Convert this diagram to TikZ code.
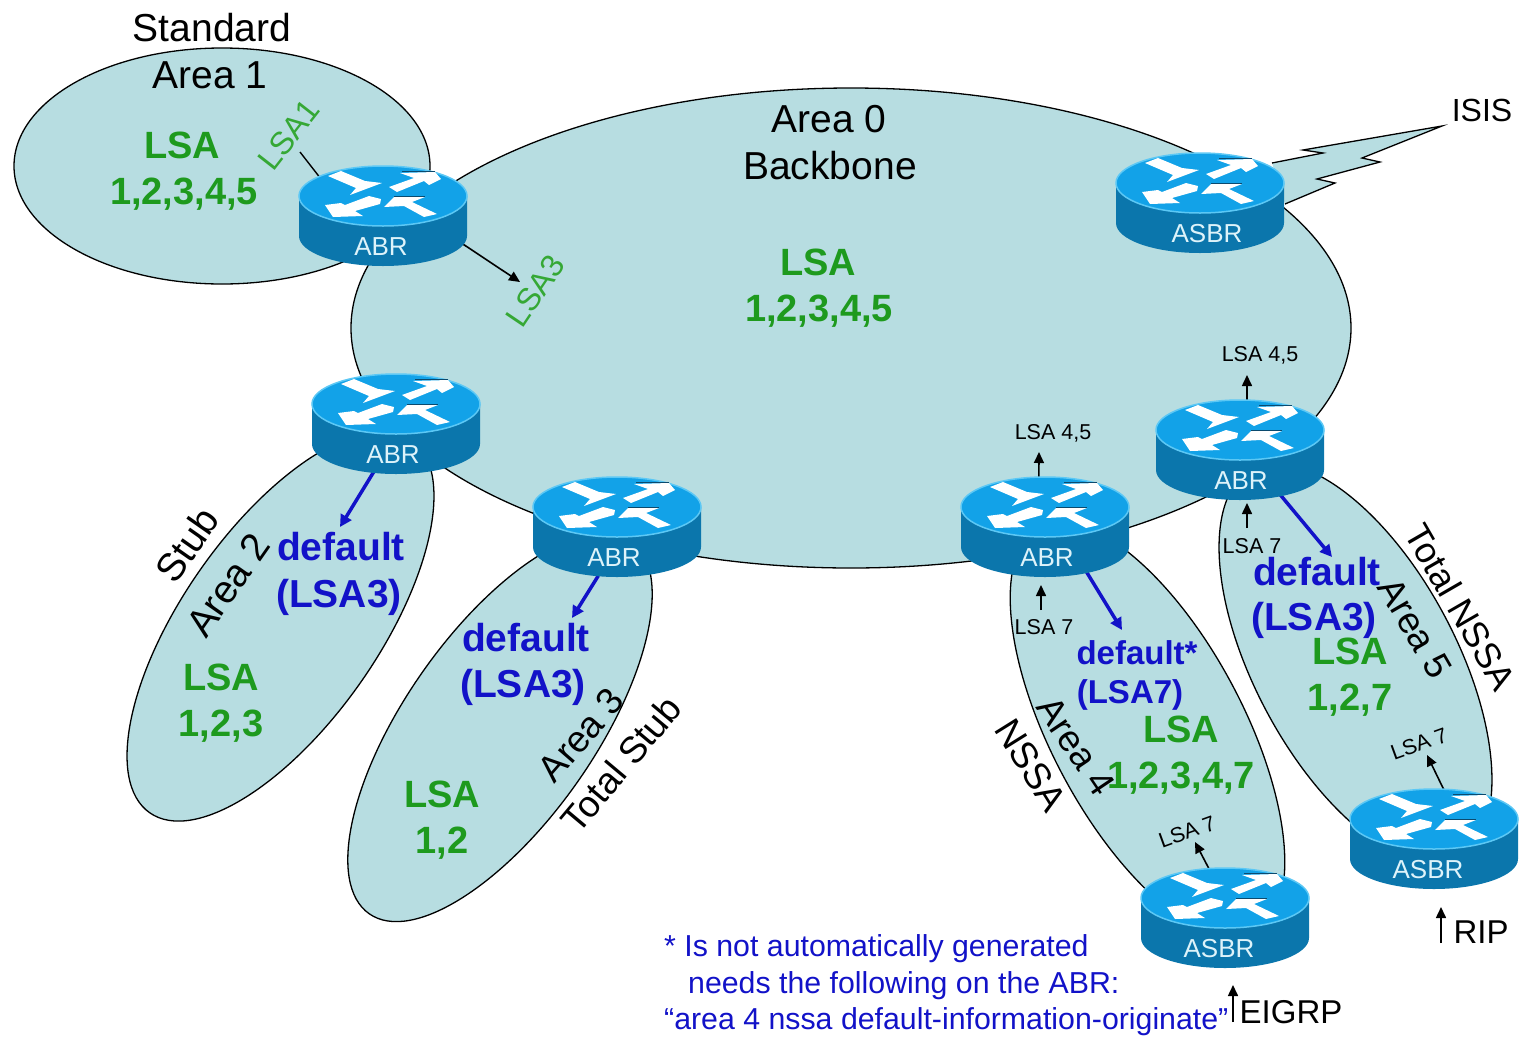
\documentclass[tikz,border=0pt]{standalone}
\usepackage{fontspec}
\setmainfont{Liberation Sans}
\usetikzlibrary{shapes.geometric,arrows.meta}
\pgfdeclarelayer{areas}
\pgfdeclarelayer{links}
\pgfsetlayers{areas,links,main}
\definecolor{areafill}{HTML}{B7DDE1}
\definecolor{rtop}{HTML}{12A2E8}
\definecolor{rrim}{HTML}{5CC8F5}
\definecolor{rside}{HTML}{0B76AC}
\definecolor{rshadow}{HTML}{0B4A6E}
\definecolor{rlabel}{HTML}{DDF3FA}
\definecolor{lsagreen}{HTML}{1E9A1E}
\definecolor{thingreen}{HTML}{35A835}
\definecolor{defblue}{HTML}{1212C8}
\tikzset{
  x=1pt,y=-1pt,
  area/.style={ellipse,draw=black,fill=areafill,line width=1.3pt,inner sep=0pt,outer sep=0pt},
  routeranchor/.style={ellipse,minimum width=168pt,minimum height=100pt,inner sep=0pt,outer sep=0pt},
  routerlabel/.style={text=rlabel,font=\fontsize{26}{28}\selectfont,inner sep=0pt},
  big/.style={text=black,font=\fontsize{39}{41}\selectfont,inner sep=0pt},
  lsatxt/.style={text=lsagreen,font=\fontsize{38}{40}\selectfont\bfseries,inner sep=0pt},
  deftxt/.style={text=defblue,font=\fontsize{39}{41}\selectfont\bfseries,inner sep=0pt},
  deffour/.style={text=defblue,font=\fontsize{33}{35}\selectfont\bfseries,inner sep=0pt},
  smalltxt/.style={text=black,font=\fontsize{21.5}{23}\selectfont,inner sep=0pt},
  thintxt/.style={text=thingreen,font=\fontsize{32}{34}\selectfont,inner sep=0pt},
  notetxt/.style={text=defblue,font=\fontsize{30.3}{32}\selectfont,inner sep=0pt,anchor=west},
  sidetxt/.style={text=black,font=\fontsize{33}{35}\selectfont,inner sep=0pt},
  blackarrow/.style={line width=1.6pt,-{Triangle[width=10pt,length=11pt]}},
  bluearrow/.style={draw=defblue,line width=3.5pt,-{Triangle[width=12pt,length=12pt]}},
}
\newcommand{\routerdraw}[5]{%
  \begin{scope}[shift={(#2,#3)}]
    \fill[rside] (-84,0) -- (-84,40) arc[start angle=180,end angle=360,x radius=84pt,y radius=30pt] -- (84,0) -- cycle;
    \fill[rtop,draw=rrim,line width=1.5pt] (0,0) ellipse[x radius=84pt,y radius=30pt];
    \fill[white] (-55,-20) -- (-42,-25) -- (-18,-15) -- (-1,-13) -- (-33,-1) -- (-27,-8) -- cycle;
    \fill[white] (6,-9) -- (31,-18) -- (17,-23) -- (52,-24) -- (58,-17) -- (46,-11) -- (41,-15) -- (14,-4) -- cycle;
    \fill[white] (-2,3) -- (-14,0) -- (-38,9) -- (-42,7) -- (-58,9) -- (-50,21) -- (-20,20) -- (-28,15) -- (-3,8) -- cycle;
    \fill[white] (54,18) -- (41,21) -- (21,10) -- (1,11) -- (11,1) -- (42,1) -- (29,6) -- cycle;
    \draw[rshadow,line width=1pt] (19,-24.5) -- (52,-24.5);
    \draw[rshadow,line width=1pt] (11,0.5) -- (42,0.5);
  \end{scope}
  \node[routeranchor] (#1) at (#2,#3+20) {};
  \node[routerlabel] (#1label) at (#5,#3+51) {#4};
}
\begin{document}
\begin{tikzpicture}
\useasboundingbox (0,0) rectangle (1519,1037);

\routerdraw{abrone}{383}{196}{ABR}{381}
\routerdraw{asbrisis}{1200}{183}{ASBR}{1207}
\routerdraw{abrtwo}{396}{404}{ABR}{393}
\routerdraw{abrthree}{617}{507}{ABR}{614}
\routerdraw{abrfour}{1045}{507}{ABR}{1047}
\routerdraw{abrfive}{1240}{430}{ABR}{1241}
\routerdraw{asbrfour}{1225}{898}{ASBR}{1219}
\routerdraw{asbrfive}{1434}{819}{ASBR}{1428}

\begin{pgfonlayer}{areas}
  \node[area,minimum width=416pt,minimum height=236pt] (areaone) at (222,166) {};
  \node[area,minimum width=456pt,minimum height=196pt,rotate=55] (areatwo) at (280.5,626) {};
  \node[area,minimum width=456pt,minimum height=190pt,rotate=55] (areathree) at (500,727) {};
  \node[area,minimum width=460pt,minimum height=192pt,rotate=-62] (areafour) at (1147.5,730) {};
  \node[area,minimum width=440pt,minimum height=202pt,rotate=-62] (areafive) at (1355.5,663.5) {};
  \node[area,minimum width=1000pt,minimum height=480pt] (areazero) at (851,328) {};
  \draw[black,fill=areafill,line width=1.3pt,line join=miter] (1272,163) -- (1323,153) -- (1303,150) -- (1442,126) -- (1362,158) -- (1380,162) -- (1317,179) -- (1335,183) -- (1285,204);
\end{pgfonlayer}

\coordinate (lsaonefree) at (300,152);
\coordinate (lsathreetip) at (520,282);
\coordinate (deftwotip) at (340,527);
\coordinate (defthreetip) at (572,618);
\coordinate (deffourtip) at (1122,630);
\coordinate (deffivetip) at (1332,557);
\coordinate (upfivetip) at (1247,375);
\coordinate (upfourtip) at (1039,452);
\coordinate (insevenfivetail) at (1247,528);
\coordinate (insevenfivetip) at (1247,503);
\coordinate (insevenfourtail) at (1041,610);
\coordinate (insevenfourtip) at (1041,585);
\coordinate (asbrfourtip) at (1195,842);
\coordinate (asbrfivetip) at (1427,755);
\coordinate (eigrptail) at (1233,1022);
\coordinate (eigrptip) at (1233,985);
\coordinate (riptail) at (1441,943);
\coordinate (riptip) at (1441,907);

\begin{pgfonlayer}{links}
  \draw[line width=1.4pt] (lsaonefree) -- (abrone.150);
  \draw[blackarrow] (abrone.-18) -- (lsathreetip);
  \draw[bluearrow] (abrtwo.-115) -- (deftwotip);
  \draw[bluearrow] (abrthree.-111) -- (defthreetip);
  \draw[bluearrow] (abrfour.-47) -- (deffourtip);
  \draw[bluearrow] (abrfive.-48) -- (deffivetip);
  \draw[blackarrow] (abrfive.82) -- (upfivetip);
  \draw[blackarrow] (abrfour.97) -- (upfourtip);
  \draw[blackarrow] (insevenfivetail) -- (insevenfivetip);
  \draw[blackarrow] (insevenfourtail) -- (insevenfourtip);
  \draw[blackarrow] (asbrfour.108) -- (asbrfourtip);
  \draw[blackarrow] (asbrfive.79) -- (asbrfivetip);
  \draw[blackarrow] (eigrptail) -- (eigrptip);
  \draw[blackarrow] (riptail) -- (riptip);
\end{pgfonlayer}

% Area 1
\node[big] (tstandard) at (212,28) {Standard};
\node[big] (tareaone) at (210,75) {Area 1};
\node[lsatxt] (tlsaone) at (182,145) {LSA};
\node[lsatxt] (tnumone) at (184,194) {1,2,3,4,5};
\node[thintxt,rotate=52] (tlsaonearrow) at (289,135) {LSA1};
\node[thintxt,rotate=56] (tlsathreearrow) at (535,291) {LSA3};
% Area 0
\node[big] (tareazero) at (829,119) {Area 0};
\node[big] (tbackbone) at (830,166) {Backbone};
\node[lsatxt] (tlsazero) at (818,262) {LSA};
\node[lsatxt] (tnumzero) at (819,311) {1,2,3,4,5};
\node[text=black,font=\fontsize{32}{34}\selectfont,inner sep=0pt] (tisis) at (1482,110) {ISIS};
% Area 2
\node[big,rotate=55] (tstub) at (187,545) {Stub};
\node[big,rotate=55] (tareatwo) at (228,585) {Area 2};
\node[deftxt] (tdeftwo) at (341,547) {default};
\node[deftxt] (tlsatwo) at (339,597) {(LSA3)};
\node[lsatxt] (tlsaa) at (221,677) {LSA};
\node[lsatxt] (tnumtwo) at (221,726) {1,2,3};
% Area 3
\node[deftxt] (tdefthree) at (526,638) {default};
\node[deftxt] (tlsathree) at (523,687) {(LSA3)};
\node[big,rotate=49,font=\fontsize{37}{39}\selectfont] (tareathree) at (581,735) {Area 3};
\node[big,rotate=50,font=\fontsize{37}{39}\selectfont] (ttotalstub) at (621,764) {Total Stub};
\node[lsatxt] (tlsab) at (442,794) {LSA};
\node[lsatxt] (tnumthree) at (442,843) {1,2};
% Area 4
\node[smalltxt] (tfourfive) at (1053,433) {LSA 4,5};
\node[smalltxt] (tfoursev) at (1044,627) {LSA 7};
\node[deffour] (tdeffour) at (1137,653) {default*};
\node[deffour] (tlsafour) at (1130,695) {(LSA7)};
\node[lsatxt] (tlsac) at (1181,729) {LSA};
\node[lsatxt] (tnumfour) at (1181,778) {1,2,3,4,7};
\node[big,rotate=-56,font=\fontsize{37}{39}\selectfont] (tareafour) at (1076,746) {Area 4};
\node[big,rotate=-58,font=\fontsize{37}{39}\selectfont] (tnssa) at (1031,765) {NSSA};
\node[smalltxt,rotate=20] (tasbrfoursev) at (1187,832) {LSA 7};
% Area 5
\node[smalltxt] (tfivefive) at (1260,355) {LSA 4,5};
\node[smalltxt] (tfivesev) at (1252,546) {LSA 7};
\node[deftxt] (tdeffive) at (1317,572) {default};
\node[deftxt] (tlsafive) at (1314,620) {(LSA3)};
\node[lsatxt] (tlsad) at (1350,651) {LSA};
\node[lsatxt] (tnumfive) at (1350,700) {1,2,7};
\node[big,rotate=-60,font=\fontsize{37}{39}\selectfont] (tareafive) at (1415,628) {Area 5};
\node[big,rotate=-60,font=\fontsize{36}{38}\selectfont] (ttotalnssa) at (1461,607) {Total NSSA};
\node[smalltxt,rotate=20] (tasbrfivesev) at (1419,744) {LSA 7};
% bottom
\node[notetxt] (tnoteone) at (664,949) {* Is not automatically generated};
\node[notetxt] (tnotetwo) at (688,986) {needs the following on the ABR:};
\node[notetxt] (tnotethree) at (664,1022) {“area 4 nssa default-information-originate”};
\node[sidetxt] (teigrp) at (1291,1012) {EIGRP};
\node[sidetxt] (trip) at (1481,932) {RIP};
\end{tikzpicture}
\end{document}
